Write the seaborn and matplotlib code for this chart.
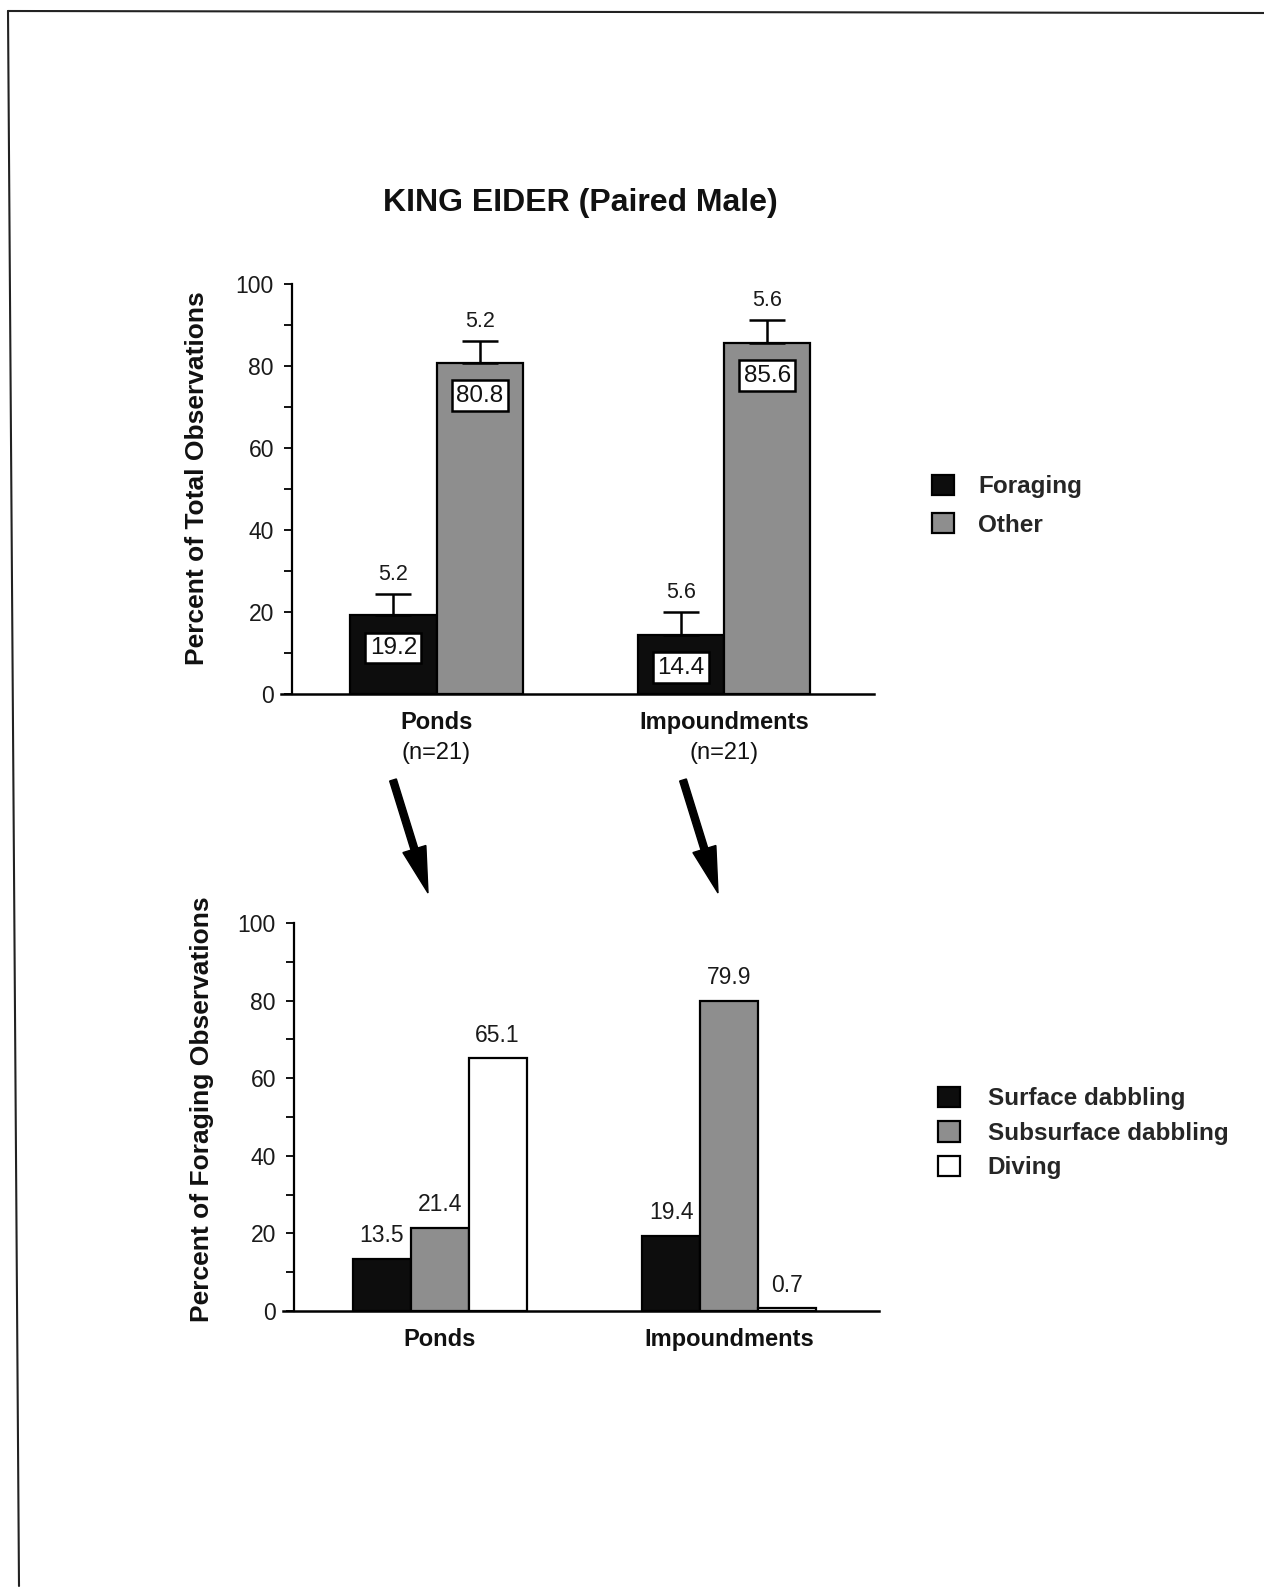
import matplotlib
matplotlib.use("Agg")
import matplotlib.pyplot as plt
import seaborn as sns
import pandas as pd
from matplotlib.patches import FancyArrow
from matplotlib.lines import Line2D
from matplotlib.ticker import MultipleLocator
import matplotlib.transforms as mtransforms

# ---------------- data ----------------
habitats = ["Ponds", "Impoundments"]
sample_sizes = ["(n=21)", "(n=21)"]

activity_levels = ["Foraging", "Other"]
foraging_pct = [19.2, 14.4]
other_pct = [80.8, 85.6]
foraging_se = [5.2, 5.6]
other_se = [5.2, 5.6]

method_levels = ["Surface dabbling", "Subsurface dabbling", "Diving"]
surface_pct = [13.5, 19.4]
subsurface_pct = [21.4, 79.9]
diving_pct = [65.1, 0.7]

title = "KING EIDER (Paired Male)"
ylabel_top = "Percent of Total Observations"
ylabel_bottom = "Percent of Foraging Observations"

# ---------------- style ----------------
sns.set_theme(style="white")
plt.rcParams["font.family"] = ["Liberation Sans", "DejaVu Sans"]

W, H = 1264, 1588
fig = plt.figure(figsize=(W / 100, H / 100), dpi=100)

BLACK = "#0d0d0d"
GRAY = "#8e8e8e"
TXT = "#111111"


def rect(l, t, r, b):
    return [l / W, 1 - b / H, (r - l) / W, (b - t) / H]


def style_axis(ax, spine_frac):
    for s in ["top", "right"]:
        ax.spines[s].set_visible(False)
    ax.spines["left"].set_position(("axes", spine_frac))
    ax.spines["left"].set_linewidth(1.6)
    ax.spines["bottom"].set_linewidth(1.8)
    ax.spines["left"].set_color("black")
    ax.spines["bottom"].set_color("black")
    ax.set_ylim(0, 100)
    ax.yaxis.set_major_locator(MultipleLocator(20))
    ax.yaxis.set_minor_locator(MultipleLocator(10))
    ax.tick_params(axis="y", which="both", direction="out", left=True,
                   length=6, width=1.3, color="black", labelsize=16.5, pad=7,
                   labelcolor="#1a1a1a")
    ax.tick_params(axis="x", length=0, pad=12)
    ax.set_xlabel("")
    ax.set_facecolor("white")


# ---------------- top chart ----------------
df_top = pd.DataFrame({
    "habitat": habitats * 2,
    "activity": [activity_levels[0]] * 2 + [activity_levels[1]] * 2,
    "pct": foraging_pct + other_pct,
})
se_map = {activity_levels[0]: foraging_se, activity_levels[1]: other_se}

ax1 = fig.add_axes(rect(281, 284, 874, 694))
sns.barplot(data=df_top, x="habitat", y="pct", hue="activity", order=habitats,
            hue_order=activity_levels, palette=[BLACK, GRAY], width=0.6,
            edgecolor="black", linewidth=1.6, saturation=1, ax=ax1, legend=True)
ax1.set_xlim(-0.541, 1.522)
style_axis(ax1, 0.0186)

for cont, lvl in zip(ax1.containers, activity_levels):
    errs = se_map[lvl]
    for bar, e in zip(cont, errs):
        x = bar.get_x() + bar.get_width() / 2
        h = bar.get_height()
        ax1.errorbar(x, h, yerr=[[0], [e]], fmt="none", ecolor="black",
                     elinewidth=1.8, capsize=13, capthick=1.8, zorder=1)
        ax1.text(x, h + e + 2.3, f"{e:.1f}", ha="center", va="bottom",
                 fontsize=15.5, color="#1a1a1a")
        ax1.text(x, h - 8, f"{h:.1f}", ha="center", va="center", fontsize=17.5,
                 color=TXT,
                 bbox=dict(boxstyle="square,pad=0.18", facecolor="white",
                           edgecolor="black", linewidth=1.8), zorder=5)

ax1.set_xticks(range(len(habitats)))
ax1.set_xticklabels(habitats, fontsize=17, fontweight="bold", color=TXT)
trans1 = mtransforms.blended_transform_factory(ax1.transData, ax1.transAxes)
for i, n in enumerate(sample_sizes):
    ax1.text(i, -0.145, n, transform=trans1, ha="center", va="center",
             fontsize=17, color=TXT)
ax1.set_ylabel(ylabel_top, fontsize=19, fontweight="bold", color=TXT)
ax1.yaxis.set_label_coords(-0.122, 0.527)

h1, l1 = ax1.get_legend_handles_labels()
ax1.legend(h1, l1, loc="upper left", bbox_to_anchor=(932 / W, 1 - 475 / H),
           bbox_transform=fig.transFigure, frameon=False,
           prop={"weight": "bold", "size": 17.5}, handlelength=0.9,
           handleheight=0.9, handletextpad=1.0, labelspacing=0.6,
           borderpad=0, borderaxespad=0)

# ---------------- bottom chart ----------------
df_bot = pd.DataFrame({
    "habitat": habitats * 3,
    "method": [method_levels[0]] * 2 + [method_levels[1]] * 2 + [method_levels[2]] * 2,
    "pct": surface_pct + subsurface_pct + diving_pct,
})

ax2 = fig.add_axes(rect(283, 923, 879, 1311))
sns.barplot(data=df_bot, x="habitat", y="pct", hue="method", order=habitats,
            hue_order=method_levels, palette=[BLACK, GRAY, "white"], width=0.6,
            edgecolor="black", linewidth=1.6, saturation=1, ax=ax2, legend=True)
ax2.set_xlim(-0.541, 1.517)
style_axis(ax2, 0.0185)

for cont in ax2.containers:
    for bar in cont:
        x = bar.get_x() + bar.get_width() / 2
        h = bar.get_height()
        ax2.text(x, h + 3.0, f"{h:.1f}", ha="center", va="bottom",
                 fontsize=16.5, color="#1a1a1a")

ax2.set_xticks(range(len(habitats)))
ax2.set_xticklabels(habitats, fontsize=17, fontweight="bold", color=TXT)
ax2.set_ylabel(ylabel_bottom, fontsize=19, fontweight="bold", color=TXT)
ax2.yaxis.set_label_coords(-0.116, 0.52)

h2, l2 = ax2.get_legend_handles_labels()
ax2.legend(h2, l2, loc="upper left", bbox_to_anchor=(938 / W, 1 - 1087 / H),
           bbox_transform=fig.transFigure, frameon=False,
           prop={"weight": "bold", "size": 17.5}, handlelength=0.9,
           handleheight=0.9, handletextpad=1.15, labelspacing=0.45,
           borderpad=0, borderaxespad=0)

# ---------------- title ----------------
fig.text(580 / W, 1 - 203 / H, title, ha="center", va="center",
         fontsize=23, fontweight="bold", color=TXT)

# ---------------- arrows (pixel coordinates) ----------------
for (x0, y0, x1, y1) in [(393, 780, 428, 893), (683, 780, 718, 893)]:
    arr = FancyArrow(x0, H - y0, x1 - x0, -(y1 - y0), width=7, head_width=24,
                     head_length=46, length_includes_head=True,
                     color="black", transform=mtransforms.IdentityTransform())
    fig.add_artist(arr)

# ---------------- page border ----------------
fig.add_artist(Line2D([8 / W, W / W], [1 - 11 / H, 1 - 13 / H],
                      transform=fig.transFigure, color="#222222", lw=1.5))
fig.add_artist(Line2D([8 / W, 19 / W], [1 - 11 / H, 1 - 1586 / H],
                      transform=fig.transFigure, color="#222222", lw=1.5))

fig.savefig("out.png", dpi=100, facecolor="white")
